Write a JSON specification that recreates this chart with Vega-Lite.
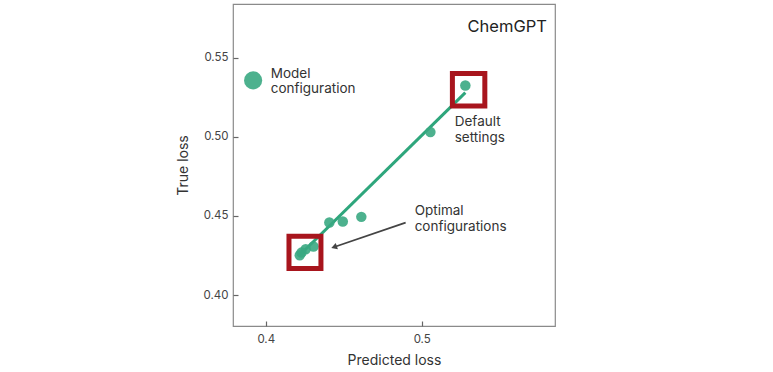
{
  "$schema": "https://vega.github.io/schema/vega-lite/v6.json",
  "autosize": {"type": "none"},
  "width": 322,
  "height": 322,
  "padding": {"left": 233, "top": 4, "right": 218, "bottom": 46},
  "background": "white",
  "config": {
    "view": {"stroke": "#8a8a8a", "strokeWidth": 1.2},
    "font": "Inter",
    "axis": {
      "grid": false,
      "domain": false,
      "tickColor": "#666",
      "tickSize": -5,
      "tickWidth": 1.2,
      "labelColor": "#444",
      "labelFontSize": 11.5,
      "labelFont": "Inter",
      "titleFont": "Inter",
      "titleFontSize": 14,
      "titleFontWeight": "normal",
      "titleColor": "#333"
    }
  },
  "datasets": {
    "points": [
      {"pred": 0.528, "true": 0.5325},
      {"pred": 0.5056, "true": 0.503},
      {"pred": 0.4613, "true": 0.4494},
      {"pred": 0.4494, "true": 0.4465},
      {"pred": 0.4408, "true": 0.4458},
      {"pred": 0.4306, "true": 0.4307},
      {"pred": 0.4256, "true": 0.4289},
      {"pred": 0.4229, "true": 0.4268},
      {"pred": 0.4218, "true": 0.4251}
    ],
    "fit": [
      {"pred": 0.421, "true": 0.4245},
      {"pred": 0.528, "true": 0.528}
    ],
    "boxes": [
      {"x1": 0.4149, "x2": 0.4354, "y1": 0.4167, "y2": 0.4372},
      {"x1": 0.5197, "x2": 0.5405, "y1": 0.5195, "y2": 0.54}
    ],
    "legend": [{"pred": 0.3919, "true": 0.5357}],
    "arrow": [{"x1": 0.4897, "y1": 0.4458, "x2": 0.4444, "y2": 0.4305}],
    "labels": [
      {"pred": 0.4032, "true": 0.5374, "label": "Model\nconfiguration"},
      {"pred": 0.5212, "true": 0.5068, "label": "Default\nsettings"},
      {"pred": 0.4955, "true": 0.4505, "label": "Optimal\nconfigurations"}
    ],
    "title": [{"pred": 0.5803, "true": 0.5662, "label": "ChemGPT"}]
  },
  "layer": [
    {
      "data": {"name": "fit"},
      "mark": {"type": "line", "color": "#2ea67c", "strokeWidth": 3},
      "encoding": {
        "x": {"field": "pred", "type": "quantitative", "title": "Predicted loss",
              "scale": {"domain": [0.379, 0.5855], "nice": false, "zero": false},
              "axis": {"values": [0.4, 0.5], "format": ".1f", "labelPadding": 12, "titlePadding": 9}},
        "y": {"field": "true", "type": "quantitative", "title": "True loss",
              "scale": {"domain": [0.3804, 0.584], "nice": false, "zero": false},
              "axis": {"values": [0.4, 0.45, 0.5, 0.55], "format": ".2f", "labelPadding": 10, "titlePadding": 13}}
      }
    },
    {
      "data": {"name": "points"},
      "mark": {"type": "circle", "color": "#3aa882", "opacity": 0.9, "size": 110},
      "encoding": {
        "x": {"field": "pred", "type": "quantitative"},
        "y": {"field": "true", "type": "quantitative"}
      }
    },
    {
      "data": {"name": "legend"},
      "mark": {"type": "circle", "color": "#3aa882", "opacity": 0.9, "size": 330},
      "encoding": {
        "x": {"field": "pred", "type": "quantitative"},
        "y": {"field": "true", "type": "quantitative"}
      }
    },
    {
      "data": {"name": "boxes"},
      "mark": {"type": "rect", "fill": null, "fillOpacity": 0, "stroke": "#a8151d", "strokeWidth": 5},
      "encoding": {
        "x": {"field": "x1", "type": "quantitative"},
        "x2": {"field": "x2"},
        "y": {"field": "y1", "type": "quantitative"},
        "y2": {"field": "y2"}
      }
    },
    {
      "data": {"name": "arrow"},
      "mark": {"type": "rule", "color": "#444", "strokeWidth": 1.8},
      "encoding": {
        "x": {"field": "x1", "type": "quantitative"},
        "y": {"field": "y1", "type": "quantitative"},
        "x2": {"field": "x2"},
        "y2": {"field": "y2"}
      }
    },
    {
      "data": {"name": "arrow"},
      "mark": {"type": "point", "shape": "triangle", "filled": true, "color": "#444", "opacity": 1, "size": 45, "angle": 251},
      "encoding": {
        "x": {"field": "x2", "type": "quantitative"},
        "y": {"field": "y2", "type": "quantitative"}
      }
    },
    {
      "data": {"name": "labels"},
      "mark": {"type": "text", "align": "left", "baseline": "alphabetic", "lineBreak": "\n", "lineHeight": 15.5, "fontSize": 13.5, "color": "#333", "font": "Inter"},
      "encoding": {
        "x": {"field": "pred", "type": "quantitative"},
        "y": {"field": "true", "type": "quantitative"},
        "text": {"field": "label"}
      }
    },
    {
      "data": {"name": "title"},
      "mark": {"type": "text", "align": "right", "baseline": "alphabetic", "fontSize": 16.5, "color": "#222", "font": "Inter"},
      "encoding": {
        "x": {"field": "pred", "type": "quantitative"},
        "y": {"field": "true", "type": "quantitative"},
        "text": {"field": "label"}
      }
    }
  ]
}
